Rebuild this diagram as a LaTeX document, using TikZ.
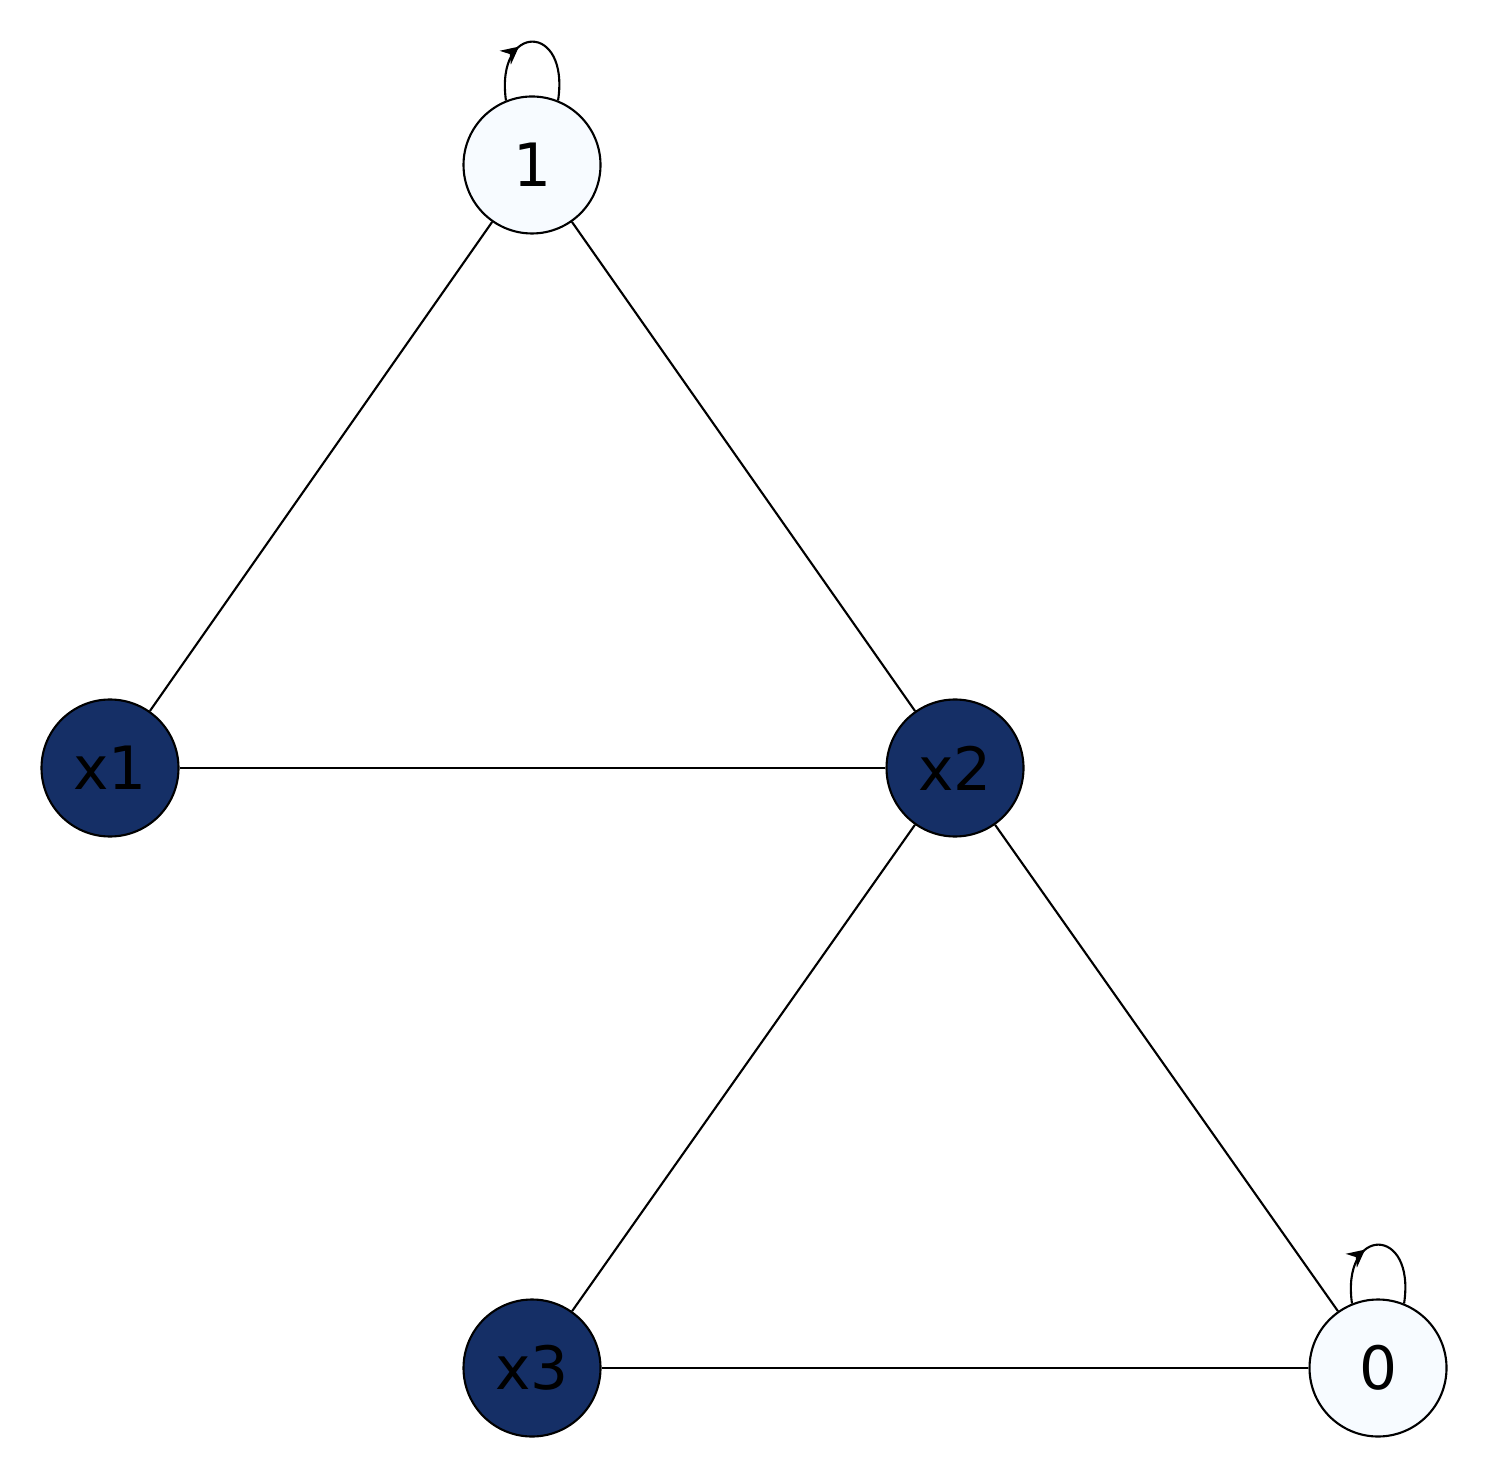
\documentclass[tikz,border=0pt]{standalone}
\usepackage{fontspec}
\setmainfont{DejaVu Sans}
\usetikzlibrary{arrows.meta,decorations.markings}
\definecolor{darkblue}{HTML}{152F66}
\definecolor{paleblue}{HTML}{F7FBFF}
\begin{document}
\begin{tikzpicture}[
    line width=0.6pt,
    vert/.style = {
      draw,
      circle,
      inner sep = 0pt,
      minimum size = 1.37cm,
      font = \fontsize{17}{20}\selectfont
    },
    light/.style = {vert, fill = paleblue},
    dark/.style = {vert, fill = darkblue},
    selfloop/.style = {
      postaction = {decorate},
      decoration = {markings, mark = at position 0.4 with {\arrow{Stealth[length=5pt,width=5pt]}}}
    }
  ]
  \useasboundingbox (0,0) rectangle (15.02,14.72);
  \node[light] (one) at (5.32,13.07) {1};
  \node[dark] (xa) at (1.10,7.04) {x1};
  \node[dark] (xb) at (9.55,7.04) {x2};
  \node[dark] (xc) at (5.32,1.04) {x3};
  \node[light] (zero) at (13.78,1.04) {0};

  \draw (one) -- (xa);
  \draw (one) -- (xb);
  \draw (xa) -- (xb);
  \draw (xb) -- (xc);
  \draw (xb) -- (zero);
  \draw (xc) -- (zero);

  \draw[selfloop] (one.112) .. controls (4.95,14.5) and (5.70,14.5) .. (one.68);
  \draw[selfloop] (zero.112) .. controls (13.41,2.47) and (14.16,2.47) .. (zero.68);
\end{tikzpicture}
\end{document}
